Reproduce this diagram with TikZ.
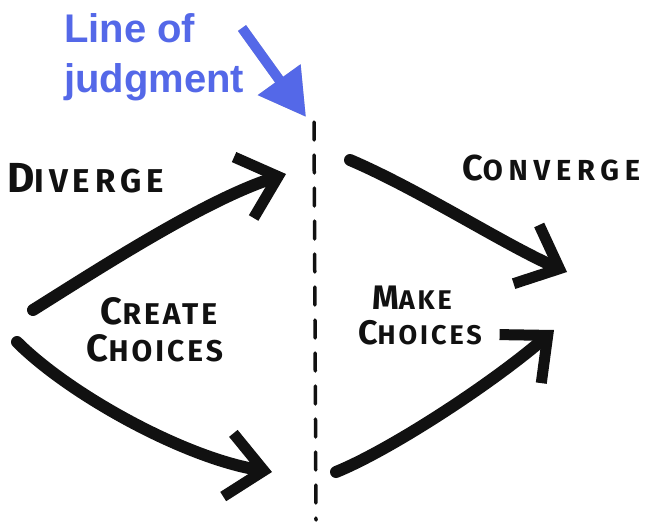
\documentclass[tikz,border=0pt]{standalone}
\usepackage{fontspec}
\usepackage{tikz}
\usetikzlibrary{arrows.meta,positioning}
\newfontfamily\labelfont{Liberation Sans}
\newfontfamily\handfont[LetterSpace=8]{Fira Sans}
\definecolor{judgeblue}{HTML}{5468E8}
\definecolor{ink}{HTML}{111111}
% big first letter, smaller rest: fake marker small caps
\newcommand{\handword}[4]{{\fontsize{#1}{#1}\selectfont #3}{\fontsize{#2}{#2}\selectfont #4}}
\tikzset{
  handtext/.style={inner sep=0pt, text=ink, font=\handfont\bfseries},
  widehand/.style={handtext, font=\handfont\bfseries\addfontfeature{LetterSpace=#1}},
  judgmenttext/.style={inner sep=0pt, align=left, text=judgeblue,
    font=\labelfont\bfseries\fontsize{40}{50}\selectfont},
  inkarrow/.style={draw=ink, line width=12pt, line cap=round,
    -{Straight Barb[length=36pt, width=64pt, line width=11pt]}},
  pointer/.style={draw=judgeblue, line width=10pt,
    -{Triangle[length=46pt, width=50pt]}},
  judgmentline/.style={draw=ink, line width=3.5pt, line cap=round,
    dash pattern=on 18pt off 15pt}
}
\begin{document}
\begin{tikzpicture}[x=1pt, y=-1pt]
\useasboundingbox (0,0) rectangle (656,522);

% the line of judgment
\coordinate (linetop) at (314,122);
\coordinate (linebottom) at (316,520);
\draw[judgmentline] (linetop) -- (linebottom);

% label and its pointer, with a soft shadow under the pointer
\node[judgmenttext, anchor=north west] (judgment) at (64,13) {Line of\\judgment};
\coordinate (pointertail) at (242,28);
\coordinate (pointertip) at (306,117);
\draw[pointer, draw=black!20, shift={(2,2.5)}] (pointertail) -- (pointertip);
\draw[pointer] (pointertail) -- (pointertip);

% the four strokes
\coordinate (divstart) at (33,310);
\coordinate (divend) at (286,174);
\coordinate (lowstart) at (17,342);
\coordinate (lowend) at (272,472);
\coordinate (constart) at (350,160);
\coordinate (conend) at (567,272);
\coordinate (makestart) at (336,472);
\coordinate (makeend) at (554,330);
\draw[inkarrow] (divstart) .. controls (100,268) and (205,200) .. (divend);
\draw[inkarrow] (lowstart) .. controls (70,395) and (185,458) .. (lowend);
\draw[inkarrow] (constart) .. controls (420,190) and (505,245) .. (conend);
\draw[inkarrow] (makestart) .. controls (390,450) and (490,385) .. (makeend);

% hand lettering
\node[widehand=15, anchor=base west] (diverge) at (7,192) {\handword{42}{33}{D}{IVERGE}};
\node[widehand=20, anchor=base west] (converge) at (462,180) {\handword{36}{29}{C}{ONVERGE}};
\node[widehand=10, anchor=base] (create) at (159,324) {\handword{38}{30}{C}{REATE}};
\node[widehand=10, anchor=base] (createchoices) at (155,361) {\handword{38}{30}{C}{HOICES}};
\node[widehand=11, anchor=base] (make) at (412,309) {\handword{34}{27}{M}{AKE}};
\node[widehand=11, anchor=base] (makechoices) at (420,344) {\handword{34}{27}{C}{HOICES}};
\end{tikzpicture}
\end{document}
